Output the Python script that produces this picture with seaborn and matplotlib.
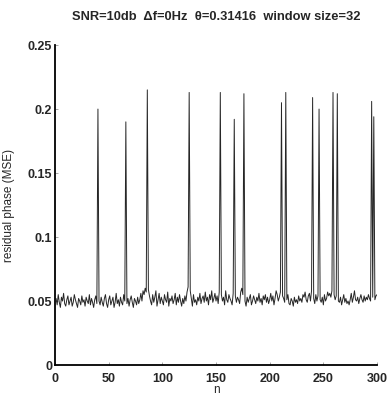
import numpy as np
import pandas as pd
import matplotlib
matplotlib.use("Agg")
import matplotlib.pyplot as plt
import seaborn as sns

# residual phase MSE values (thousandths) for n = 1..300
mse_milli = [
    52, 47, 55, 49, 45, 53, 50, 56, 48, 46,
    51, 54, 47, 50, 53, 46, 49, 55, 51, 48,
    45, 52, 50, 47, 54, 49, 51, 46, 53, 50,
    48, 55, 47, 52, 49, 45, 51, 54, 48, 200,
    50, 47, 53, 49, 46, 52, 55, 48, 45, 51,
    54, 47, 50, 53, 45, 49, 56, 48, 51, 46,
    53, 49, 47, 55, 50, 190, 48, 52, 46, 51,
    54, 49, 45, 52, 50, 47, 53, 48, 51, 56,
    50, 58, 55, 60, 57, 215, 59, 54, 50, 47,
    55, 49, 53, 58, 46, 51, 56, 48, 53, 50,
    47, 55, 51, 49, 57, 46, 52, 50, 54, 48,
    51, 56, 47, 53, 49, 55, 50, 46, 52, 48,
    54, 50, 57, 61, 213, 58, 52, 46, 55, 49,
    51, 47, 53, 50, 56, 48, 52, 54, 49, 57,
    50, 53, 47, 55, 51, 58, 49, 52, 56, 50,
    54, 48, 57, 213, 55, 50, 53, 47, 58, 51,
    49, 55, 52, 50, 47, 56, 192, 54, 49, 53,
    51, 48, 57, 60, 55, 212, 50, 46, 53, 49,
    52, 55, 47, 50, 54, 51, 48, 53, 50, 56,
    49, 52, 47, 54, 51, 55, 49, 53, 48, 51,
    56, 50, 54, 47, 52, 58, 55, 50, 53, 57,
    205, 54, 52, 49, 213, 51, 55, 48, 47, 52,
    50, 46, 53, 49, 51, 48, 54, 50, 52, 49,
    55, 53, 57, 51, 49, 54, 56, 50, 58, 209,
    52, 48, 55, 50, 54, 200, 51, 49, 53, 47,
    55, 50, 52, 57, 54, 56, 53, 58, 213, 55,
    51, 54, 212, 50, 49, 53, 47, 51, 55, 49,
    52, 48, 50, 47, 51, 56, 49, 53, 58, 51,
    50, 53, 48, 52, 55, 51, 49, 54, 50, 53,
    51, 55, 52, 50, 206, 53, 194, 51, 54, 55,
]
n_values = list(range(1, len(mse_milli) + 1))
x_ticks = [0, 50, 100, 150, 200, 250, 300]
y_ticks = [0, 0.05, 0.1, 0.15, 0.2, 0.25]
y_tick_labels = ["0", "0.05", "0.1", "0.15", "0.2", "0.25"]
title_text = "SNR=10db  \u0394f=0Hz  \u03b8=0.31416  window size=32"

df = pd.DataFrame({"n": n_values, "mse": [v / 1000 for v in mse_milli]})

sns.set_style("ticks")
plt.rcParams["font.family"] = ["Liberation Sans", "DejaVu Sans"]

fig = plt.figure(figsize=(3.89, 3.99), dpi=100)
ax = fig.add_axes([0.1414, 0.0852, 0.8278, 0.8018])
sns.lineplot(data=df, x="n", y="mse", ax=ax, color="#262626", linewidth=0.7)

ax.set_xlim(0, 300)
ax.set_ylim(0, 0.25)
ax.set_xticks(x_ticks)
ax.set_xticklabels([str(t) for t in x_ticks], fontsize=9, fontweight="bold")
ax.set_yticks(y_ticks)
ax.set_yticklabels(y_tick_labels, fontsize=9, fontweight="bold")
ax.tick_params(direction="in", length=2.5, width=0.6, color="#999999")
ax.tick_params(axis="x", pad=6)
ax.tick_params(axis="y", pad=2)
ax.set_xlabel("n", fontsize=8.5, labelpad=-1)
ax.set_ylabel("residual phase (MSE)", fontsize=8.5, labelpad=9)
ax.set_title(title_text, fontsize=9.3, fontweight="bold", pad=18)
sns.despine(ax=ax)
for s in ["left", "bottom"]:
    ax.spines[s].set_linewidth(1.3)
    ax.spines[s].set_color("black")

fig.savefig("out.png", dpi=100, facecolor="white")
